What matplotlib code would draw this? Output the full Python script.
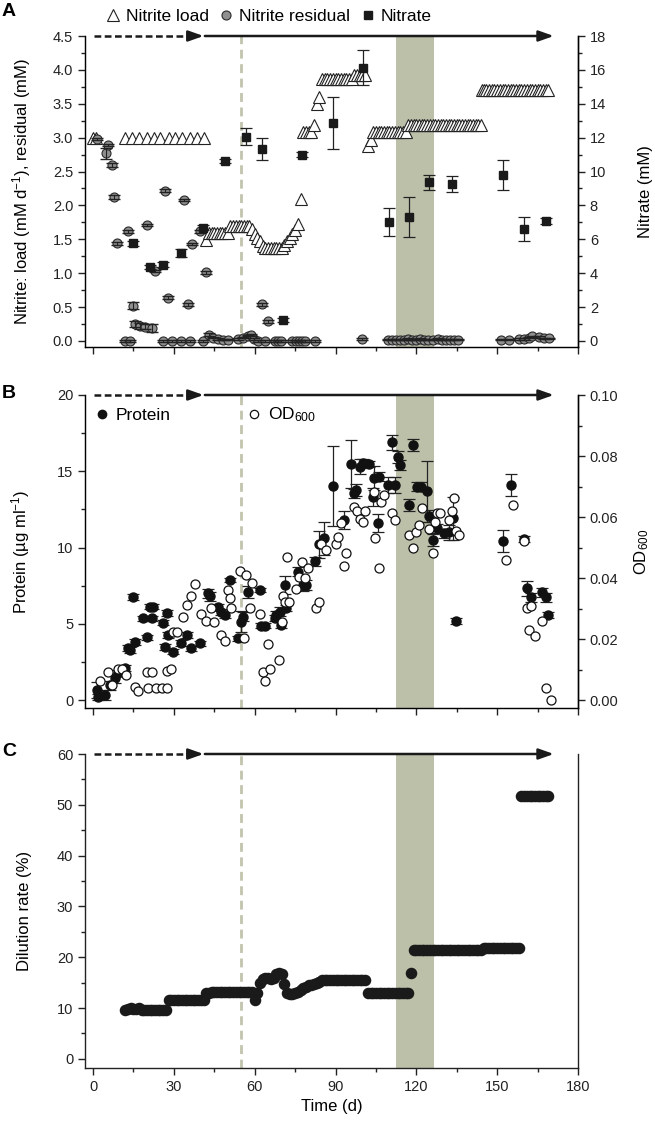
import matplotlib
matplotlib.use('Agg')
import matplotlib.pyplot as plt
import matplotlib.transforms as mtrans
from matplotlib.lines import Line2D
from matplotlib.ticker import MultipleLocator, FormatStrFormatter

plt.rcParams['font.family'] = ['Liberation Sans', 'DejaVu Sans']
plt.rcParams['mathtext.fontset'] = 'custom'
plt.rcParams['mathtext.rm'] = 'Liberation Sans'
plt.rcParams['mathtext.default'] = 'regular'

# ---- Panel A: nitrite load (open triangles), nitrite residual (grey), nitrate (right axis)
load_day = [0, 1, 12, 14.5, 17, 20, 22.5, 25, 28, 30.5, 33, 36, 38.5, 41,
            42, 43, 44, 45, 46, 47, 48, 49, 50,
            51, 52, 53, 54, 55, 56, 57, 58,
            59, 60, 61, 62, 63, 64, 65, 66, 67, 68, 69, 70,
            71, 72, 73, 74, 75, 76, 77,
            78, 79, 80, 81, 82, 83, 84,
            85, 86, 87, 88, 89, 90, 91, 92, 93, 94, 95, 96,
            97, 98, 99, 100, 101,
            102, 103, 104, 105, 106, 107, 108, 109, 110, 111, 112, 113, 114, 115, 116,
            117, 118, 119, 120, 121, 122, 123, 124, 125, 126, 127, 128, 129, 130,
            131, 132, 133, 134, 135, 136, 137, 138, 139, 140, 141, 142, 143, 144,
            144.5, 145, 146, 147, 148, 149, 150, 151, 152, 153, 154, 155, 156, 157,
            158, 159, 160, 161, 162, 163, 164, 165, 166, 167, 168, 169]
load_val = [3.0, 3.0, 3.0, 3.0, 3.0, 3.0, 3.0, 3.0, 3.0, 3.0, 3.0, 3.0, 3.0, 3.0,
            1.49, 1.59, 1.59, 1.59, 1.59, 1.59, 1.59, 1.59, 1.59,
            1.69, 1.69, 1.69, 1.69, 1.69, 1.69, 1.69, 1.69,
            1.65, 1.58, 1.52, 1.47, 1.40, 1.37, 1.37, 1.37, 1.37, 1.37, 1.37, 1.37,
            1.42, 1.47, 1.52, 1.58, 1.64, 1.73, 2.10,
            3.09, 3.09, 3.09, 3.09, 3.19, 3.50, 3.60,
            3.87, 3.87, 3.87, 3.87, 3.87, 3.87, 3.87, 3.87, 3.87, 3.87, 3.87, 3.87,
            3.93, 3.93, 3.93, 3.93, 3.93,
            2.87, 2.96, 3.09, 3.09, 3.09, 3.09, 3.09, 3.09, 3.09, 3.09, 3.09, 3.09, 3.09, 3.09, 3.09,
            3.19, 3.19, 3.19, 3.19, 3.19, 3.19, 3.19, 3.19, 3.19, 3.19, 3.19, 3.19, 3.19, 3.19,
            3.19, 3.19, 3.19, 3.19, 3.19, 3.19, 3.19, 3.19, 3.19, 3.19, 3.19, 3.19, 3.19, 3.19,
            3.70, 3.70, 3.70, 3.70, 3.70, 3.70, 3.70, 3.70, 3.70, 3.70, 3.70, 3.70, 3.70, 3.70,
            3.70, 3.70, 3.70, 3.70, 3.70, 3.70, 3.70, 3.70, 3.70, 3.70, 3.70, 3.70]

res_day = [1.4, 4.7, 5.7, 6.9, 7.9, 8.8, 11.9, 12.8, 13.7, 14.9, 15.5, 17.4, 19.3, 19.9,
           21.7, 23.0, 26.1, 26.7, 27.9, 29.4, 32.8, 33.8, 35.1, 35.9, 36.8, 39.6, 40.9,
           42.1, 43.0, 44.6, 46.4, 48.3, 50.1, 53.8, 55.7, 57.5, 58.5, 59.8, 61.2, 62.8,
           63.7, 64.9, 67.4, 68.6, 69.8, 74.0, 75.2, 76.4, 77.6, 78.8, 82.2, 99.9,
           109.5, 111.0, 112.5, 114.0, 115.5, 117.0, 118.5, 120.0, 121.5, 123.0, 124.5,
           126.0, 128.0, 129.5, 131.0, 132.5, 134.0, 135.5,
           151.4, 154.5, 158.2, 160.0, 161.9, 163.1, 165.6, 167.5, 169.3]
res_val = [2.98, 2.77, 2.89, 2.59, 2.13, 1.44, 0.0, 1.62, 0.0, 0.52, 0.25, 0.22, 0.21, 1.71,
           0.19, 1.03, 0.0, 2.22, 0.64, 0.0, 0.0, 2.08, 0.54, 0.0, 1.43, 1.62, 0.0,
           1.01, 0.09, 0.05, 0.03, 0.02, 0.02, 0.03, 0.05, 0.08, 0.09, 0.03, 0.0, 0.54,
           0.0, 0.29, 0.0, 0.0, 0.0, 0.0, 0.0, 0.0, 0.0, 0.0, 0.0, 0.03,
           0.02, 0.02, 0.02, 0.02, 0.02, 0.03, 0.02, 0.02, 0.03, 0.02, 0.02,
           0.02, 0.03, 0.02, 0.02, 0.02, 0.02, 0.02,
           0.02, 0.02, 0.03, 0.03, 0.05, 0.07, 0.06, 0.04, 0.04]
res_err = [0.02, 0.08, 0.02, 0.03, 0.03, 0.02, 0.01, 0.02, 0.01, 0.05, 0.05, 0.04, 0.04, 0.02,
           0.06, 0.02, 0.01, 0.02, 0.02, 0.01, 0.01, 0.02, 0.02, 0.01, 0.02, 0.02, 0.01,
           0.02, 0.02, 0.01, 0.01, 0.01, 0.01, 0.01, 0.01, 0.01, 0.01, 0.01, 0.01, 0.02,
           0.01, 0.02, 0.01, 0.01, 0.01, 0.01, 0.01, 0.01, 0.01, 0.01, 0.01, 0.01,
           0.01, 0.01, 0.01, 0.01, 0.01, 0.01, 0.01, 0.01, 0.01, 0.01, 0.01,
           0.01, 0.01, 0.01, 0.01, 0.01, 0.01, 0.01,
           0.01, 0.01, 0.01, 0.01, 0.01, 0.01, 0.01, 0.01, 0.01]

nit_day = [14.9, 21.1, 26.1, 32.8, 40.9, 48.9, 56.9, 62.8, 70.5, 77.7,
           89.0, 100.1, 110.0, 117.1, 124.8, 133.1, 152.0, 160.0, 168.0]
nit_val = [5.77, 4.39, 4.49, 5.18, 6.69, 10.63, 12.06, 11.33, 1.24, 10.98,
           12.85, 16.14, 7.0, 7.34, 9.37, 9.25, 9.8, 6.61, 7.08]
nit_err = [0.15, 0.12, 0.15, 0.25, 0.15, 0.1, 0.5, 0.63, 0.12, 0.15,
           1.52, 1.05, 0.83, 1.18, 0.44, 0.46, 0.9, 0.71, 0.15]

# ---- Panel B: protein (filled, left axis) and OD600 (open, right axis)
prot_day = [1.4, 2.0, 4.4, 6.3, 8.1, 9.4, 11.9, 13.1, 13.7, 15.5, 14.9, 18.6, 19.9, 21.1,
            21.7, 22.3, 26.1, 26.7, 27.3, 27.9, 29.8, 32.8, 34.7, 36.5, 39.6, 42.7, 43.3,
            46.4, 47.6, 48.9, 50.7, 53.8, 55.0, 55.6, 57.5, 61.9, 62.5, 63.7, 67.4, 68.0,
            69.2, 69.9, 71.1, 71.7, 76.0, 77.9, 79.1, 82.2, 84.0, 85.9, 89.0, 93.1, 95.8,
            97.0, 97.6, 98.9, 100.1, 102.6, 103.8, 104.4, 105.9, 106.3, 109.4, 111.0,
            111.9, 113.1, 114.0, 117.1, 118.8, 120.4, 121.7, 124.0, 124.8, 126.0, 127.7,
            130.4, 132.2, 133.5, 134.7, 152.0, 155.1, 160.0, 161.0, 162.7, 166.8, 168.0,
            169.0]
prot_val = [0.66, 0.22, 0.33, 0.98, 1.42, 1.75, 2.08, 3.39, 3.28, 3.83, 6.73, 5.36, 4.11, 6.12,
            5.36, 6.12, 5.07, 3.45, 5.68, 4.26, 3.17, 3.72, 4.26, 3.39, 3.72, 7.0, 6.8,
            6.12, 5.79, 5.57, 7.87, 4.04, 5.14, 5.46, 7.10, 7.21, 4.87, 4.87, 5.36, 5.57,
            5.79, 4.92, 7.54, 6.01, 8.42, 7.54, 7.54, 9.11, 10.21, 10.6, 14.03, 11.8, 15.48,
            13.55, 13.77, 15.3, 15.52, 15.48, 13.33, 14.54, 11.59, 14.65, 14.1, 16.9,
            14.1, 15.95, 15.41, 12.79, 16.72, 13.99, 13.99, 13.7, 12.09, 10.49, 11.26,
            10.93, 11.0, 11.91, 5.18, 10.43, 14.1, 10.56, 7.32, 6.73, 7.06, 6.73,
            5.57]
prot_err = [0.5, 0.2, 0.3, 0.3, 0.3, 0.2, 0.2, 0.2, 0.2, 0.2, 0.2, 0.15, 0.15, 0.15,
            0.15, 0.15, 0.15, 0.2, 0.2, 0.2, 0.15, 0.2, 0.2, 0.15, 0.15, 0.3, 0.3,
            0.2, 0.2, 0.2, 0.15, 0.15, 0.7, 0.3, 0.4, 0.15, 0.15, 0.15, 0.2, 0.3,
            0.3, 0.2, 0.6, 0.2, 0.3, 0.4, 0.3, 0.3, 0.9, 1.1, 2.6, 0.6, 1.6,
            0.3, 0.4, 0.5, 0.3, 0.2, 0.6, 0.8, 0.6, 0.3, 0.5, 0.5,
            0.5, 0.4, 0.3, 0.4, 0.4, 0.3, 0.3, 2.0, 0.4, 0.4, 0.3,
            0.3, 0.5, 1.4, 0.2, 0.7, 0.7, 0.2, 0.5, 0.3, 0.3, 0.3,
            0.2]

od_day = [2.6, 5.7, 6.9, 9.4, 10.6, 12.4, 15.5, 16.8, 19.9, 21.7, 20.5, 23.2, 25.4, 27.3,
          27.3, 28.9, 29.8, 31.0, 33.5, 34.7, 36.5, 37.8, 40.2, 42.1, 43.7, 45.0, 47.6,
          48.9, 50.1, 50.7, 51.3, 54.4, 56.0, 56.9, 58.1, 59.1, 61.8, 63.1, 63.7, 64.9,
          65.8, 69.0, 70.0, 70.5, 71.1, 72.0, 72.7, 75.4, 76.6, 77.6, 78.5, 79.7, 82.8,
          83.8, 84.7, 86.5, 90.0, 90.9, 92.1, 93.1, 94.0, 96.7, 97.9, 98.9, 100.1, 101.1,
          104.1, 104.8, 106.0, 106.9, 108.1, 110.9, 111.9, 117.4, 118.8, 119.9, 121.1,
          122.0, 124.8, 126.0, 126.9, 127.7, 128.9, 132.0, 133.1, 134.1, 134.7, 135.9,
          153.2, 155.9, 160.0, 161.2, 161.8, 162.7, 163.9, 166.7, 168.0, 169.8]
od_val = [0.0063, 0.0091, 0.0049, 0.0102, 0.0102, 0.0082, 0.0044, 0.0030, 0.0091, 0.0093,
          0.0041, 0.0041, 0.0041, 0.0041, 0.0095, 0.0102, 0.0224, 0.0222, 0.0273, 0.0312,
          0.0342, 0.0381, 0.0281, 0.0259, 0.0303, 0.0255, 0.0213, 0.0192, 0.0361, 0.0334,
          0.0303, 0.0423, 0.0202, 0.0410, 0.0303, 0.0383, 0.0281, 0.0093, 0.0063, 0.0183,
          0.0102, 0.0130, 0.0255, 0.0342, 0.0321, 0.0470, 0.0321, 0.0364, 0.0405, 0.0454,
          0.0399, 0.0432, 0.0301, 0.0321, 0.0511, 0.0492, 0.0511, 0.0536, 0.0580, 0.0441,
          0.0481, 0.0634, 0.0620, 0.0595, 0.0583, 0.0620, 0.0681, 0.0530, 0.0432, 0.0650,
          0.0672, 0.0612, 0.0590, 0.0541, 0.0500, 0.0552, 0.0574, 0.0631, 0.0561, 0.0481,
          0.0583, 0.0612, 0.0612, 0.0590, 0.0620, 0.0661, 0.0554, 0.0541, 0.0459, 0.0640,
          0.0522, 0.0303, 0.0230, 0.0309, 0.0211, 0.0259, 0.0041, 0.0]

# ---- Panel C: dilution rate (%)
dil_day = [12, 13, 14, 15, 16, 17, 18, 19, 20, 21, 22, 23, 24, 25, 26, 27,
           28, 29, 30, 31, 32, 33, 34, 35, 36, 37, 38, 39, 40, 41,
           42, 43, 44, 45, 46, 47, 48, 49, 50, 51, 52, 53, 54, 55, 56, 57, 58, 59,
           60, 61, 62, 63, 64, 65, 66, 67, 68, 69, 70, 71, 72, 73, 74, 75,
           76, 77, 78, 79, 80, 81, 82, 83, 84,
           85, 86, 87, 88, 89, 90, 91, 92, 93, 94, 95, 96, 97, 98, 99, 100, 101,
           102, 103, 104, 105, 106, 107, 108, 109, 110, 111, 112, 113, 114, 115, 116, 117,
           118,
           119, 120, 121, 122, 123, 124, 125, 126, 127, 128, 129, 130, 131, 132, 133,
           134, 135, 136, 137, 138, 139, 140, 141, 142, 143, 144,
           145, 146, 147, 148, 149, 150, 151, 152, 153, 154, 155, 156, 157, 158,
           159, 160, 161, 162, 163, 164, 165, 166, 167, 168, 169]
dil_rate = [9.7, 9.8, 10.1, 9.8, 9.8, 10.1, 9.7, 9.6, 9.6, 9.6, 9.6, 9.6, 9.6, 9.6, 9.6, 9.6,
            11.5, 11.6, 11.6, 11.6, 11.6, 11.6, 11.6, 11.6, 11.6, 11.6, 11.6, 11.6, 11.6, 11.6,
            12.9, 13.0, 13.2, 13.2, 13.2, 13.2, 13.2, 13.2, 13.2, 13.2, 13.2, 13.2, 13.2, 13.2,
            13.2, 13.2, 13.2, 13.2,
            11.5, 13.0, 14.9, 15.8, 16.0, 16.0, 15.8, 16.0, 16.7, 16.8, 16.7, 14.8, 13.0, 12.8,
            12.8, 12.9,
            13.2, 13.5, 13.9, 14.2, 14.5, 14.6, 14.8, 15.0, 15.2,
            15.5, 15.5, 15.5, 15.5, 15.5, 15.5, 15.5, 15.5, 15.5, 15.5, 15.5, 15.5, 15.5, 15.5,
            15.5, 15.5, 15.5,
            13.0, 13.0, 13.0, 13.0, 13.0, 13.0, 13.0, 13.0, 13.0, 13.0, 13.0, 13.0, 13.0, 13.0,
            13.0, 13.0,
            16.9,
            21.5, 21.5, 21.5, 21.5, 21.5, 21.5, 21.5, 21.5, 21.5, 21.5, 21.5, 21.5, 21.5, 21.5,
            21.5, 21.5, 21.5, 21.5, 21.5, 21.5, 21.5, 21.5, 21.5, 21.5, 21.5, 21.5,
            21.8, 21.8, 21.8, 21.8, 21.8, 21.8, 21.8, 21.8, 21.8, 21.8, 21.8, 21.8, 21.8, 21.8,
            51.7, 51.7, 51.7, 51.7, 51.7, 51.7, 51.7, 51.7, 51.7, 51.7, 51.7]

# phase markers
start_phase_end = 41
run_end = 171
dashed_day = 55
band = (112.5, 126.5)

INK = '#1a1a1a'
FS_TICK = 10.5
FS_LABEL = 12

fig = plt.figure(figsize=(6.55, 11.26), dpi=100)
W, H = 655, 1126


def add_axes(top, bottom, left=85, right=578):
    return fig.add_axes([left / W, 1 - bottom / H, (right - left) / W, (bottom - top) / H])


def style_axis(ax, ylim, major, minor, fmt=None, xlabels=False):
    ax.set_xlim(-3, 180)
    ax.set_ylim(*ylim)
    ax.xaxis.set_major_locator(MultipleLocator(30))
    ax.xaxis.set_minor_locator(MultipleLocator(15))
    ax.yaxis.set_major_locator(MultipleLocator(major))
    ax.yaxis.set_minor_locator(MultipleLocator(minor))
    if fmt:
        ax.yaxis.set_major_formatter(FormatStrFormatter(fmt))
    ax.spines['top'].set_visible(False)
    for s in ['left', 'right', 'bottom']:
        ax.spines[s].set_linewidth(1.0)
        ax.spines[s].set_color('#222222')
    ax.tick_params(which='both', direction='out', width=1.0, color='#222222', labelsize=FS_TICK,
                   labelcolor='#222222')
    ax.tick_params(which='major', length=5)
    ax.tick_params(which='minor', length=3)
    ax.tick_params(axis='x', labelbottom=xlabels)


def style_right(ax2, ylim, major, minor, fmt=None):
    ax2.set_ylim(*ylim)
    ax2.yaxis.set_major_locator(MultipleLocator(major))
    ax2.yaxis.set_minor_locator(MultipleLocator(minor))
    if fmt:
        ax2.yaxis.set_major_formatter(FormatStrFormatter(fmt))
    ax2.spines['top'].set_visible(False)
    ax2.spines['right'].set_linewidth(1.0)
    ax2.tick_params(which='both', direction='out', width=1.0, color='#222222', labelsize=FS_TICK,
                    labelcolor='#222222')
    ax2.tick_params(which='major', length=5)
    ax2.tick_params(which='minor', length=3)


def decorate(ax):
    ax.axvspan(band[0], band[1], color='#bcc0a9', lw=0, zorder=0)
    ax.axvline(dashed_day, color='#c2c4ae', lw=2.0, ls=(0, (3.2, 2.0)), zorder=1)
    tr = mtrans.blended_transform_factory(ax.transData, ax.transAxes)
    ax.plot([0.5, 38], [1, 1], transform=tr, color=INK, lw=1.8, ls=(0, (2.7, 1.4)),
            clip_on=False, zorder=6)
    ax.annotate('', xy=(start_phase_end, 1), xycoords=tr, xytext=(36, 1), textcoords=tr,
                arrowprops=dict(arrowstyle='-|>,head_length=0.9,head_width=0.32', color=INK,
                                lw=1.8, shrinkA=0, shrinkB=0),
                annotation_clip=False, zorder=6)
    ax.annotate('', xy=(run_end, 1), xycoords=tr, xytext=(start_phase_end + 0.5, 1),
                textcoords=tr,
                arrowprops=dict(arrowstyle='-|>,head_length=0.9,head_width=0.32', color=INK,
                                lw=1.8, shrinkA=0, shrinkB=0),
                annotation_clip=False, zorder=6)


# ================= Panel A =================
axA = add_axes(36, 346.7)
style_axis(axA, (-0.085, 4.5), 0.5, 0.25, '%.1f')
decorate(axA)
axA.plot(load_day, load_val, ls='none', marker='^', ms=8, mfc='white', mec='#222222',
         mew=0.8, zorder=3)
axA.plot(res_day, res_val, ls='none', marker='o', ms=6.5, mfc='#8f8f8f', mec='#2a2a2a',
         mew=0.8, zorder=4)
axA.errorbar(res_day, res_val, yerr=res_err, fmt='none', ecolor='#222222', elinewidth=0.8,
             capsize=4.2, capthick=1.0, zorder=5)
axA.set_ylabel('Nitrite: load (mM d$^{-1}$), residual (mM)', fontsize=FS_LABEL)
axA.yaxis.set_label_coords(-0.105, 0.5)

axA2 = axA.twinx()
style_right(axA2, (-0.34, 18), 2, 1)
axA2.errorbar(nit_day, nit_val, yerr=nit_err, fmt='s', ms=6.3, mfc=INK, mec=INK,
              ecolor='#222222', elinewidth=0.9, capsize=4.5, capthick=0.9, zorder=5)
axA2.set_ylabel('Nitrate (mM)', fontsize=FS_LABEL)
axA2.yaxis.set_label_coords(1.122, 0.5)

handles = [Line2D([], [], ls='none', marker='^', ms=8.5, mfc='white', mec='#222222', mew=0.8),
           Line2D([], [], ls='none', marker='o', ms=6.5, mfc='#8f8f8f', mec='#2a2a2a', mew=0.8),
           Line2D([], [], ls='none', marker='s', ms=5.5, mfc=INK, mec=INK)]
axA2.legend(handles, ['Nitrite load', 'Nitrite residual', 'Nitrate'], loc='center',
            bbox_to_anchor=(0.373, 1.064), ncol=3, frameon=False, fontsize=12.5,
            handlelength=0.8, handletextpad=0.35, columnspacing=0.6, borderaxespad=0,
            borderpad=0)

# ================= Panel B =================
axB = add_axes(395, 708)
style_axis(axB, (-0.52, 20), 5, 2.5)
decorate(axB)
axB.errorbar(prot_day, prot_val, yerr=prot_err, fmt='o', ms=6.5, mfc='#111111', mec='#111111',
             ecolor='#222222', elinewidth=0.9, capsize=4.5, capthick=0.9, zorder=3)
axB.set_ylabel('Protein (µg ml$^{-1}$)', fontsize=FS_LABEL)
axB.yaxis.set_label_coords(-0.108, 0.5)

axB2 = axB.twinx()
style_right(axB2, (-0.0026, 0.10), 0.02, 0.01, '%.2f')
axB2.plot(od_day, od_val, ls='none', marker='o', ms=6.5, mfc='white', mec='#111111', mew=0.9,
          zorder=4)
axB2.set_ylabel('OD$_{600}$', fontsize=FS_LABEL)
axB2.yaxis.set_label_coords(1.111, 0.5)

legP = axB2.legend([Line2D([], [], ls='none', marker='o', ms=6, mfc='#111111', mec='#111111')],
                   ['Protein'], loc='center left', bbox_to_anchor=(0.02, 0.936), frameon=False,
                   fontsize=12.5, handlelength=0.8, handletextpad=0.4, borderaxespad=0,
                   borderpad=0)
axB2.add_artist(legP)
axB2.legend([Line2D([], [], ls='none', marker='o', ms=6, mfc='white', mec='#111111', mew=0.9)],
            ['OD$_{600}$'], loc='center left', bbox_to_anchor=(0.329, 0.936), frameon=False,
            fontsize=12.5, handlelength=0.8, handletextpad=0.4, borderaxespad=0,
            borderpad=0)

# ================= Panel C =================
axC = add_axes(754, 1068)
style_axis(axC, (-1.8, 60), 10, 5, xlabels=True)
decorate(axC)
axC.tick_params(axis='y', which='both', right=False)
axC.plot(dil_day, dil_rate, ls='none', marker='o', ms=7.3, mfc=INK, mec=INK, zorder=3)
axC.set_ylabel('Dilution rate (%)', fontsize=FS_LABEL)
axC.yaxis.set_label_coords(-0.108, 0.5)
axC.set_xlabel('Time (d)', fontsize=FS_LABEL, labelpad=4)

for letter, y in [('A', 11.7), ('B', 393), ('C', 751)]:
    fig.text(9 / W, 1 - y / H, letter, ha='center', va='center', fontsize=14,
             fontweight='bold')

fig.savefig('out.png', dpi=100)
